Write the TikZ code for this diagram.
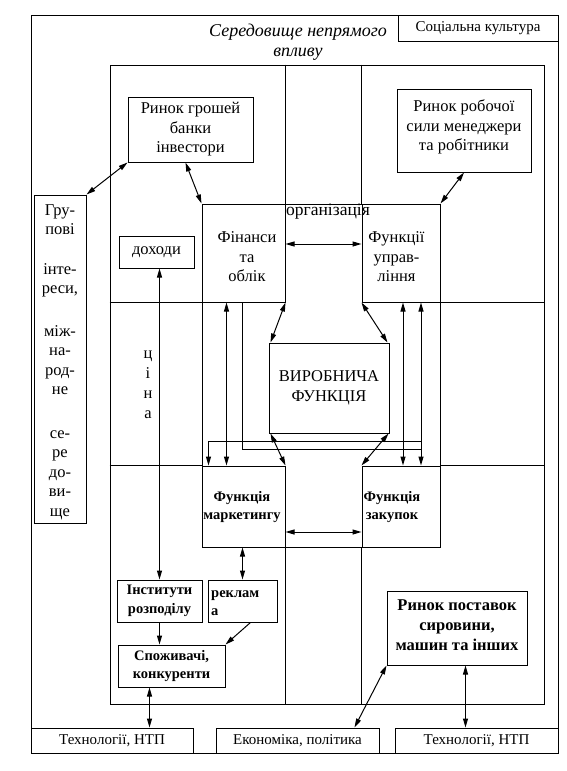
\documentclass[tikz,border=0pt]{standalone}
\usepackage{fontspec}
\setmainfont{Liberation Serif}
\usetikzlibrary{arrows.meta,calc}
\newcommand{\fmain}{\fontsize{16.5}{19.5}\selectfont}
\newcommand{\fsm}{\fontsize{15}{18}\selectfont}
\newcommand{\fbd}{\fontsize{14.5}{18.5}\selectfont\bfseries}
\newcommand{\fbig}{\fontsize{16.5}{20}\selectfont\bfseries}
\tikzset{
  ln/.style={line width=1pt},
  box/.style={draw, line width=1pt, inner sep=0pt, align=center},
  txt/.style={inner sep=0pt, align=center, font=\fmain},
  dbl/.style={line width=1pt, {Triangle[length=9pt,width=5pt]}-{Triangle[length=9pt,width=5pt]}},
  one/.style={line width=1pt, -{Triangle[length=9pt,width=5pt]}},
}
\begin{document}
\begin{tikzpicture}[x=1pt,y=-1pt]
\useasboundingbox (0,0) rectangle (566,771);
% frames
\node[box, minimum width=527pt, minimum height=738pt] (outer) at (294.5,384) {};
\node[box, minimum width=434pt, minimum height=639pt] (inner) at (327,384.5) {};
\node[box, minimum width=238pt, minimum height=343pt] (org) at (321,375.5) {};
\node[box, minimum width=160pt, minimum height=26pt, font=\fsm] (soc) at (478,28) {Соціальна культура};
\node[txt, font=\fontsize{18}{20.5}\selectfont\itshape] (title) at (298,42) {Середовище непрямого\\впливу};
% boxes
\node[box, minimum width=52pt, minimum height=328pt] (grp) at (60,359) {};
\node[box, minimum width=125pt, minimum height=65pt, font=\fmain] (rg) at (190.5,129.5) {Ринок грошей\\банки\\інвестори};
\node[box, minimum width=134pt, minimum height=83pt] (rr) at (464,130.5) {};
\node[box, minimum width=75pt, minimum height=32pt, font=\fmain] (dox) at (156.5,252) {доходи};
\node[box, minimum width=83pt, minimum height=98pt] (fin) at (243.5,253) {};
\node[box, minimum width=78pt, minimum height=98pt] (fun) at (401,253) {};
\node[box, minimum width=120pt, minimum height=90pt, font=\fmain] (vir) at (329,388) {ВИРОБНИЧА\\ФУНКЦІЯ};
\node[box, minimum width=83pt, minimum height=81pt] (mar) at (243.5,506.5) {};
\node[box, minimum width=78pt, minimum height=81pt] (zak) at (401,506.5) {};
\node[box, minimum width=85pt, minimum height=42pt, font=\fbd] (inst) at (159.5,601) {Інститути\\розподілу};
\node[box, minimum width=69pt, minimum height=42pt] (rek) at (242.5,601) {};
\node[box, minimum width=107pt, minimum height=42pt, font=\fbd] (spoz) at (171.5,666) {Споживачі,\\конкуренти};
\node[box, minimum width=140pt, minimum height=74pt] (rp) at (457,628) {};
\node[box, minimum width=162pt, minimum height=25pt, font=\fsm] (tech1) at (112,740.5) {Технології, НТП};
\node[box, minimum width=163pt, minimum height=25pt, font=\fsm] (econ) at (297.5,740.5) {Економіка, політика};
\node[box, minimum width=163pt, minimum height=25pt, font=\fsm] (tech2) at (476.5,740.5) {Технології, НТП};
% grid lines
\draw[ln] (inner.west |- fin.south) -- (fin.south west);
\draw[ln] (fun.south east) -- (inner.east |- fun.south);
\draw[ln] (inner.west |- mar.north) -- (mar.north west);
\draw[ln] (zak.north east) -- (inner.east |- zak.north);
\draw[ln] (fin.north east |- inner.north) -- (fin.north east);
\draw[ln] (fun.north west |- inner.north) -- (fun.north west);
\draw[ln] (mar.south east) -- (mar.south east |- inner.south);
\draw[ln] (zak.south west) -- (zak.south west |- inner.south);
% texts
\node[txt] (rrt) at (464,127) {Ринок робочої\\сили менеджери\\та робітники};
\node[txt] (grpt) at (60,362) {Гру-\\пові\\[20pt]інте-\\реси,\\[23pt]між-\\на-\\род-\\не\\[24pt]се-\\ре\\до-\\ви-\\ще};
\node[txt, font=\fontsize{17.5}{20}\selectfont] (orgl) at (328,212) {організація};
\node[txt] (fint) at (247,257) {Фінанси\\та\\облік};
\node[txt] (funt) at (396.5,257) {Функції\\управ-\\ління};
\node[txt, font=\fbd] (mart) at (242,507) {Функція\\маркетингу};
\node[txt, font=\fbd] (zakt) at (392,507) {Функція\\закупок};
\node[txt, font=\fbd, align=left, anchor=west] (rekt) at (211,603) {реклам\\а};
\node[txt, font=\fbig] (rpt) at (457,625) {Ринок поставок\\сировини,\\машин та інших};
\node[txt, font=\fontsize{16.5}{20}\selectfont] (cina) at (148,385) {ц\\і\\н\\а};
% connectors
\draw[dbl] (rg.south west) -- (grp.north east);
\draw[dbl] ([xshift=58pt]rg.south west) -- (fin.north west);
\draw[dbl] (rr.south) -- (fun.north east);
\draw[dbl] ([yshift=9pt]fin.east) -- ([yshift=9pt]fun.west);
\draw[dbl] (fin.south east) -- ([xshift=2pt]vir.north west);
\draw[dbl] (fun.south west) -- ([xshift=-2pt]vir.north east);
\draw[dbl] ([xshift=2pt]vir.south west) -- (mar.north east);
\draw[dbl] ([xshift=-1pt]vir.south east) -- (zak.north west);
\draw[dbl] ([yshift=-25.5pt]mar.east) -- ([yshift=-25.5pt]zak.west);
\draw[dbl] ([xshift=25pt]fin.south west) -- ([xshift=25pt]mar.north west);
\coordinate (j1) at (421.5,441);
\coordinate (j2) at (421.5,449);
\draw[ln] ([xshift=41pt]fin.south west) |- (j2);
\draw[one] (j1) -| ([xshift=7pt]mar.north west);
\draw[dbl] ([xshift=41.5pt]fun.south west) -- ([xshift=41.5pt]zak.north west);
\draw[dbl] ([xshift=59.5pt]fun.south west) -- ([xshift=59.5pt]zak.north west);
\draw[dbl] (rek.north |- mar.south) -- (rek.north);
\draw[dbl] (inst.north |- dox.south) -- (inst.north);
\draw[one] (inst.south) -- (inst.south |- spoz.north);
\draw[one] ([xshift=43pt]rek.south west) -- (spoz.north east);
\draw[dbl] ([xshift=32pt]spoz.south west) -- ([xshift=32pt]spoz.south west |- tech1.north);
\draw[dbl] (rp.south west) -- ([xshift=-25pt]econ.north east);
\draw[dbl] ([xshift=79pt]rp.south west) -- ([xshift=79pt]rp.south west |- tech2.north);
\end{tikzpicture}
\end{document}
